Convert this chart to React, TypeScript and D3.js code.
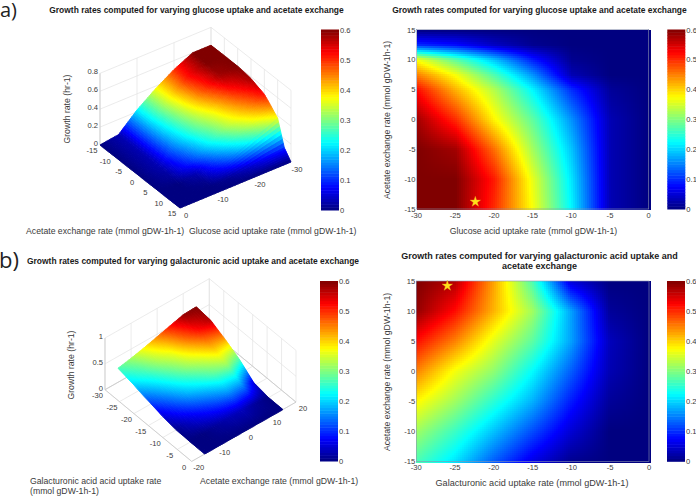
import { useMemo } from "react";
import * as d3 from "d3";

// acetate / uptake grids (rows run from y low to y high)
const uptakeLevels = [-30, -25, -20, -15, -10, -5, 0];
const glucoseAcetate = [-15, -10, -5, 0, 5, 7.5, 10, 12.5, 15];
const glucoseGrowth = [
  [0.6, 0.6, 0.5, 0.37, 0.22, 0.03, 0],
  [0.6, 0.6, 0.51, 0.36, 0.21, 0.03, 0],
  [0.6, 0.58, 0.46, 0.32, 0.19, 0.03, 0],
  [0.58, 0.5, 0.38, 0.28, 0.16, 0.03, 0],
  [0.52, 0.42, 0.33, 0.22, 0.1, 0.015, 0],
  [0.45, 0.37, 0.27, 0.16, 0.03, 0, 0],
  [0.37, 0.28, 0.19, 0.09, 0.01, 0, 0],
  [0.1, 0.08, 0.04, 0.01, 0, 0, 0],
  [0, 0, 0, 0, 0, 0, 0],
];
const galactAcetate = [-15, -10, -5, 0, 5, 10, 15];
const galactGrowth = [
  [0.27, 0.21, 0.13, 0.06, 0.01, 0, 0],
  [0.32, 0.26, 0.19, 0.12, 0.05, 0, 0],
  [0.38, 0.32, 0.25, 0.18, 0.09, 0.015, 0],
  [0.45, 0.37, 0.31, 0.225, 0.13, 0.03, 0],
  [0.52, 0.45, 0.36, 0.28, 0.17, 0.035, 0],
  [0.59, 0.52, 0.42, 0.32, 0.17, 0.015, 0],
  [0.6, 0.57, 0.43, 0.27, 0.05, 0, 0],
];
const glucoseStar = [-22.4, -13.8];
const galactStar = [-26, 14.2];

const heatXTicks = [-30, -25, -20, -15, -10, -5, 0];
const heatYTicks = [-15, -10, -5, 0, 5, 10, 15];
const barTicks = [0, 0.1, 0.2, 0.3, 0.4, 0.5, 0.6];
const aXTicks = [0, -10, -20, -30];
const aYTicks = [-15, -10, -5, 0, 5, 10, 15];
const aZTicks = [0, 0.2, 0.4, 0.6, 0.8];
const bXTicks = [-30, -25, -20, -15, -10, -5, 0];
const bYTicks = [-20, -10, 0, 10, 20];
const bZTicks = [0, 0.5, 1];

const FONT = "'Liberation Sans', Arial, sans-serif";
const INK = "#3a3a3a";

const jet = (v: number) => {
  const t = Math.max(0, Math.min(1, v / 0.6));
  const c = (d: number) => Math.round(255 * Math.max(0, Math.min(1, 1.5 - Math.abs(4 * t - d))));
  return `rgb(${c(3)},${c(2)},${c(1)})`;
};

// bilinear lookup on a non uniform grid
function sampler(xs: number[], ys: number[], zs: number[][]) {
  const ix = d3.scaleLinear().domain(xs).range(xs.map((_, i) => i)).clamp(true);
  const iy = d3.scaleLinear().domain(ys).range(ys.map((_, i) => i)).clamp(true);
  return (x: number, y: number) => {
    const fx = ix(x);
    const fy = iy(y);
    const i = Math.min(Math.floor(fx), xs.length - 2);
    const j = Math.min(Math.floor(fy), ys.length - 2);
    const u = fx - i;
    const v = fy - j;
    return (
      zs[j][i] * (1 - u) * (1 - v) +
      zs[j][i + 1] * u * (1 - v) +
      zs[j + 1][i] * (1 - u) * v +
      zs[j + 1][i + 1] * u * v
    );
  };
}

function Colorbar({ x, top, h }: any) {
  const y = d3.scaleLinear().domain([0, 0.6]).range([top + h, top]);
  const w = 18;
  const levels = d3.range(64);
  const band = h / 64;
  return (
    <g>
      {levels.map((i) => (
        <rect key={i} x={x} y={top + h - (i + 1) * band} width={w} height={band + 0.5} fill={jet(((i + 0.5) / 64) * 0.6)} />
      ))}
      {barTicks.map((t) => (
        <text key={t} x={x + w + 1} y={y(t) + 3} fontSize={7.6} fill={INK}>
          {t}
        </text>
      ))}
    </g>
  );
}

function Heatmap({ left, right, top, bottom, xs, ys, zs, star }: any) {
  const x = d3.scaleLinear().domain([-30, 0]).range([left, right]);
  const y = d3.scaleLinear().domain([-15, 15]).range([bottom, top]);
  const cells = useMemo(() => {
    const f = sampler(xs, ys, zs);
    const out: any[] = [];
    for (let px = left; px < right; px += 2) {
      for (let py = top; py < bottom; py += 2) {
        out.push({ px, py, fill: jet(f(x.invert(px + 1), y.invert(py + 1))) });
      }
    }
    return out;
  }, []);
  const starPath = d3.symbol(d3.symbolStar, 34)() as string;
  return (
    <g>
      {cells.map((c, i) => (
        <rect key={i} x={c.px} y={c.py} width={2.2} height={2.2} fill={c.fill} shapeRendering="crispEdges" />
      ))}
      <rect x={left} y={top} width={right - left} height={bottom - top} fill="none" stroke="#8a93b0" strokeWidth={0.6} />
      <path d={starPath} transform={`translate(${x(star[0])},${y(star[1])})`} fill="#ffe21a" stroke="#f0a020" strokeWidth={0.4} />
      {heatXTicks.map((t) => (
        <text key={t} x={x(t)} y={bottom + 8.5} fontSize={7.6} fill={INK} textAnchor="middle">
          {t}
        </text>
      ))}
      {heatYTicks.map((t) => (
        <text key={t} x={left - 1} y={y(t) + 3} fontSize={7.6} fill={INK} textAnchor="end">
          {t}
        </text>
      ))}
    </g>
  );
}

function Surface({ view, xs, ys, zs, xTicks, yTicks, zTicks, yRange, xLabelEdge, xOff, yOff, zOff }: any) {
  const fx = d3.scaleLinear().domain(view.xDomain).range([0, 1]);
  const fy = d3.scaleLinear().domain(view.yDomain).range([0, 1]);
  const project = (a: number, b: number, c: number): [number, number] => [
    view.origin[0] + fx(a) * view.xVec[0] + fy(b) * view.yVec[0],
    view.origin[1] + fx(a) * view.xVec[1] + fy(b) * view.yVec[1] - c * view.zPx,
  ];
  const zTop = zTicks[zTicks.length - 1];
  const [x0, x1] = view.xDomain;
  const [y0, y1] = view.yDomain;
  const line = (p: [number, number], q: [number, number], key: string, color = "#e2e2e2") => (
    <line key={key} x1={p[0]} y1={p[1]} x2={q[0]} y2={q[1]} stroke={color} strokeWidth={0.7} />
  );

  const quads = useMemo(() => {
    const f = sampler(xs, ys, zs);
    const n = 14;
    const out: any[] = [];
    const xa = xs[0];
    const xb = xs[xs.length - 1];
    const ya = yRange[0];
    const yb = yRange[1];
    const nx = 6 * n;
    const ny = 6 * n;
    const path = d3.line();
    for (let i = 0; i < nx; i++) {
      for (let j = 0; j < ny; j++) {
        const a0 = xa + ((xb - xa) * i) / nx;
        const a1 = xa + ((xb - xa) * (i + 1)) / nx;
        const b0 = ya + ((yb - ya) * j) / ny;
        const b1 = ya + ((yb - ya) * (j + 1)) / ny;
        const corners: [number, number][] = [
          project(a0, b0, f(a0, b0)),
          project(a1, b0, f(a1, b0)),
          project(a1, b1, f(a1, b1)),
          project(a0, b1, f(a0, b1)),
        ];
        const mida = (a0 + a1) / 2;
        const midb = (b0 + b1) / 2;
        out.push({
          d: path(corners) + "Z",
          fill: jet(f(mida, midb)),
          depth: project(mida, midb, 0)[1],
        });
      }
    }
    return out.sort((p, q) => p.depth - q.depth);
  }, []);

  return (
    <g>
      {/* box walls and floor */}
      {zTicks.map((z: number) => (
        <g key={z}>
          {line(project(view.wallX[0], view.wallY, z), project(view.wallX[1], view.wallY, z), `a${z}`)}
          {line(project(view.wallX[1], view.wallY, z), project(view.wallX[1], view.wallY2, z), `b${z}`)}
        </g>
      ))}
      {xTicks.map((t: number) => (
        <g key={t}>
          {line(project(t, view.wallY, 0), project(t, view.wallY, zTop), "v")}
          {line(project(t, y0, 0), project(t, y1, 0), "f")}
        </g>
      ))}
      {yTicks.map((t: number) => (
        <g key={t}>
          {line(project(view.wallX[1], t, 0), project(view.wallX[1], t, zTop), "v")}
          {line(project(x0, t, 0), project(x1, t, 0), "f")}
        </g>
      ))}
      {line(project(x0, y0, 0), project(x1, y0, 0), "e1", "#c4c4c4")}
      {line(project(x0, y0, 0), project(x0, y1, 0), "e2", "#c4c4c4")}
      {line(project(x1, y0, 0), project(x1, y1, 0), "e3", "#c4c4c4")}
      {line(project(x0, y1, 0), project(x1, y1, 0), "e4", "#c4c4c4")}
      {line(view.zAt(project), view.zAtTop(project), "e5", "#c4c4c4")}
      {quads.map((q, i) => (
        <path key={i} d={q.d} fill={q.fill} stroke={q.fill} strokeWidth={0.9} strokeLinejoin="round" />
      ))}
      {zTicks.map((z: number) => {
        const p = view.zAnchor(project, z);
        return (
          <text key={z} x={p[0] + zOff} y={p[1] + 1} fontSize={7.6} fill={INK} textAnchor="end">
            {z}
          </text>
        );
      })}
      {xTicks.map((t: number) => {
        const p = project(t, xLabelEdge, 0);
        return (
          <text key={t} x={p[0] + xOff[0]} y={p[1] + xOff[1] + 2.5} fontSize={7.6} fill={INK} textAnchor="middle">
            {t}
          </text>
        );
      })}
      {yTicks.map((t: number) => {
        const p = project(view.yLabelEdge, t, 0);
        return (
          <text key={t} x={p[0] + yOff[0]} y={p[1] + yOff[1] + 2.5} fontSize={7.6} fill={INK} textAnchor="middle">
            {t}
          </text>
        );
      })}
    </g>
  );
}

const viewA = {
  origin: [100, 145],
  xDomain: [0, -30],
  yDomain: [-15, 15],
  xVec: [111, -46],
  yVec: [80, 63],
  zPx: 89.6,
  wallX: [0, -30],
  wallY: -15,
  wallY2: 15,
  yLabelEdge: 0,
  zAnchor: (project: any, z: number) => project(0, -15, z),
  zAt: (project: any) => project(0, -15, 0),
  zAtTop: (project: any) => project(0, -15, 0.8),
};

const viewB = {
  origin: [105, 389.7],
  xDomain: [-30, 0],
  yDomain: [-20, 20],
  xVec: [86.7, 71.7],
  yVec: [104.3, -59.3],
  zPx: 51.7,
  wallX: [0, -30],
  wallY: 20,
  wallY2: -20,
  yLabelEdge: 0,
  zAnchor: (project: any, z: number) => project(-30, -20, z),
  zAt: (project: any) => project(-30, -20, 0),
  zAtTop: (project: any) => project(-30, -20, 1),
};

const Title = ({ x, y, children, size = 8.45 }: any) => (
  <text x={x} y={y} fontSize={size} fontWeight="bold" textAnchor="middle" fill="#1a1a1a">
    {children}
  </text>
);

const Label = ({ x, y, children, anchor = "start", rotate, size = 8.7 }: any) => (
  <text
    x={x}
    y={y}
    fontSize={size}
    fill={INK}
    textAnchor={anchor}
    transform={rotate ? `rotate(-90 ${x} ${y})` : undefined}
  >
    {children}
  </text>
);

export default function App() {
  return (
    <svg
      width={696}
      height={496}
      viewBox="0 0 696 496"
      style={{ position: "absolute", left: 0, top: 0, background: "#fff" }}
      fontFamily={FONT}
    >
      <text x={0} y={17} fontSize={20} fontFamily="'Open Sans', sans-serif" fill="#222">a)</text>
      <text x={-1} y={268} fontSize={22} fontFamily="'Open Sans', sans-serif" fill="#222">b)</text>

      {/* a) glucose */}
      <Title x={196.5} y={13}>Growth rates computed for varying glucose uptake and acetate exchange</Title>
      <Surface
        view={viewA}
        xs={uptakeLevels}
        ys={glucoseAcetate}
        zs={glucoseGrowth}
        xTicks={aXTicks}
        yTicks={aYTicks}
        zTicks={aZTicks}
        yRange={[-15, 15]}
        xLabelEdge={15}
        xOff={[6, 7]}
        yOff={[-8, 5.5]}
        zOff={-2}
      />
      <Colorbar x={321} top={29.5} h={180.5} />
      <Label x={26} y={234}>Acetate exchange rate (mmol gDW-1h-1)</Label>
      <Label x={189} y={234}>Glucose acid uptake rate (mmol gDW-1h-1)</Label>
      <Label x={70} y={109} anchor="middle" rotate>Growth rate (hr-1)</Label>

      <Title x={539.5} y={13}>Growth rates computed for varying glucose uptake and acetate exchange</Title>
      <Heatmap left={416.5} right={648.7} top={29.5} bottom={209} xs={uptakeLevels} ys={glucoseAcetate} zs={glucoseGrowth} star={glucoseStar} />
      <Colorbar x={667.3} top={29.5} h={179.5} />
      <Label x={533.5} y={234} anchor="middle">Glucose acid uptake rate (mmol gDW-1h-1)</Label>
      <Label x={390} y={120} anchor="middle" rotate>Acetate exchange rate (mmol gDW-1h-1)</Label>

      {/* b) galacturonic acid */}
      <Title x={193} y={264}>Growth rates computed for varying galacturonic acid uptake and acetate exchange</Title>
      <Surface
        view={viewB}
        xs={uptakeLevels}
        ys={galactAcetate}
        zs={galactGrowth}
        xTicks={bXTicks}
        yTicks={bYTicks}
        zTicks={bZTicks}
        yRange={[-15, 15]}
        xLabelEdge={-20}
        xOff={[-7.5, 6]}
        yOff={[7, 6]}
        zOff={-2}
      />
      <Colorbar x={320} top={281} h={180} />
      <Label x={30} y={484}>Galacturonic acid acid uptake rate</Label>
      <Label x={30} y={494}>(mmol gDW-1h-1)</Label>
      <Label x={200} y={484}>Acetate exchange rate (mmol gDW-1h-1)</Label>
      <Label x={74} y={365} anchor="middle" rotate>Growth rate (hr-1)</Label>

      <Title x={539.5} y={259} size={9}>Growth rates computed for varying galacturonic acid uptake and</Title>
      <Title x={539.5} y={269} size={9}>acetate exchange</Title>
      <Heatmap left={416.3} right={649} top={281} bottom={461.3} xs={uptakeLevels} ys={galactAcetate} zs={galactGrowth} star={galactStar} />
      <Colorbar x={667} top={281} h={180.3} />
      <Label x={532} y={486} anchor="middle" size={9.1}>Galacturonic acid uptake rate (mmol gDW-1h-1)</Label>
      <Label x={390} y={372} anchor="middle" rotate>Acetate exchange rate (mmol gDW-1h-1)</Label>
    </svg>
  );
}
